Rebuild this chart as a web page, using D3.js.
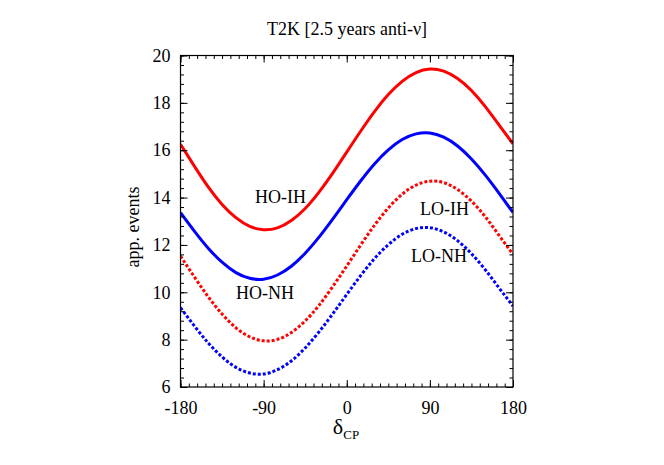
<!DOCTYPE html>
<html>
<head>
<meta charset="utf-8">
<script src="https://cdn.jsdelivr.net/npm/d3@7"></script>
<style>
  body { margin: 0; background: #fff; }
  svg { display: block; }
  text { font-family: "Liberation Serif", "Times New Roman", serif; fill: #000; }
</style>
</head>
<body>
<svg id="chart" width="664" height="465"></svg>
<script>
// ---- data ----
const deltaCP = [-180,-165,-150,-135,-120,-105,-90,-75,-60,-45,-30,-15,0,15,30,45,60,75,90,105,120,135,150,165,180];
const hoIH = [16.25,15.33,14.45,13.71,13.15,12.78,12.64,12.72,13.03,13.54,14.23,15.04,15.92,16.80,17.63,18.35,18.91,19.28,19.43,19.34,19.03,18.52,17.84,17.06,16.27];
const hoNH = [13.36,12.58,11.86,11.27,10.83,10.59,10.55,10.73,11.10,11.65,12.33,13.10,13.91,14.70,15.42,16.01,16.45,16.69,16.73,16.55,16.18,15.63,14.95,14.18,13.37];
const loIH = [11.53,10.65,9.81,9.08,8.50,8.12,7.95,8.01,8.30,8.79,9.45,10.25,11.11,11.99,12.83,13.56,14.14,14.53,14.69,14.63,14.34,13.85,13.19,12.40,11.60];
const loNH = [9.35,8.58,7.86,7.27,6.83,6.59,6.55,6.73,7.10,7.65,8.33,9.10,9.91,10.70,11.42,12.01,12.45,12.69,12.73,12.55,12.18,11.63,10.95,10.18,9.42];
const xTicks = [-180,-90,0,90,180];
const yTicks = [6,8,10,12,14,16,18,20];
const seriesNames = ["HO-IH","HO-NH","LO-IH","LO-NH"];
const titleText = "T2K [2.5 years anti-\u03bd]";
const yLabelText = "app. events";

// ---- layout ----
const svg = d3.select("#chart");
const L = 180.5, R = 513, T = 55.5, B = 387;
const x = d3.scaleLinear().domain([-180,180]).range([L,R]);
const y = d3.scaleLinear().domain([6,20]).range([B,T]);

const series = [
  {name: seriesNames[0], vals: hoIH, color: "#ff0000", dash: null, lx: 255, ly: 203},
  {name: seriesNames[1], vals: hoNH, color: "#0000ff", dash: null, lx: 236, ly: 299},
  {name: seriesNames[2], vals: loIH, color: "#ff0000", dash: "3,2", lx: 420, ly: 215},
  {name: seriesNames[3], vals: loNH, color: "#0000ff", dash: "3,2", lx: 411, ly: 262}
];

svg.append("clipPath").attr("id","clip")
  .append("rect").attr("x",L).attr("y",T).attr("width",R-L).attr("height",B-T);

const line = d3.line().x((d,i)=>x(deltaCP[i])).y(d=>y(d)).curve(d3.curveNatural);

const g = svg.append("g").attr("clip-path","url(#clip)");
series.forEach(s => {
  g.append("path").datum(s.vals)
    .attr("d", line)
    .attr("fill","none")
    .attr("stroke", s.color)
    .attr("stroke-width", 3)
    .attr("stroke-dasharray", s.dash);
});

// minor ticks
const xMinor = d3.range(-180, 181, 9);
const yMinor = d3.range(6, 20.01, 0.4);
const fmt = d => String(d);

function addAxis(axisGen, tx, ty) {
  const a = svg.append("g").attr("transform",`translate(${tx},${ty})`).call(axisGen);
  a.select(".domain").remove();
  a.selectAll("line").attr("stroke","#000").attr("stroke-width",1);
  a.selectAll("text").style("font-size","18px").style("font-family","'Liberation Serif', serif");
  return a;
}
// bottom
addAxis(d3.axisBottom(x).tickValues(xTicks).tickSize(-7).tickPadding(14).tickFormat(fmt), 0, B);
addAxis(d3.axisBottom(x).tickValues(xMinor).tickSize(-3.5).tickFormat(""), 0, B);
// top
addAxis(d3.axisTop(x).tickValues(xTicks).tickSize(-7).tickFormat(""), 0, T);
addAxis(d3.axisTop(x).tickValues(xMinor).tickSize(-3.5).tickFormat(""), 0, T);
// left
addAxis(d3.axisLeft(y).tickValues(yTicks).tickSize(-7).tickPadding(10).tickFormat(fmt), L, 0);
addAxis(d3.axisLeft(y).tickValues(yMinor).tickSize(-3.5).tickFormat(""), L, 0);
// right
addAxis(d3.axisRight(y).tickValues(yTicks).tickSize(-7).tickFormat(""), R, 0);
addAxis(d3.axisRight(y).tickValues(yMinor).tickSize(-3.5).tickFormat(""), R, 0);

// frame
svg.append("rect").attr("x",L).attr("y",T).attr("width",R-L).attr("height",B-T)
  .attr("fill","none").attr("stroke","#000").attr("stroke-width",1.2);

// labels on curves
series.forEach(s => {
  svg.append("text").attr("x", s.lx).attr("y", s.ly)
    .style("font-size","18px").text(s.name);
});

// title
svg.append("text").attr("x", 347).attr("y", 35).attr("text-anchor","middle")
  .style("font-size","18px").text(titleText);

// y label
svg.append("text").attr("transform","translate(139,227) rotate(-90)")
  .attr("text-anchor","middle").style("font-size","18px").text(yLabelText);

// x label
const xl = svg.append("text").attr("x", 346).attr("y", 434).attr("text-anchor","middle");
xl.append("tspan").style("font-size","22px").text("\u03b4");
xl.append("tspan").style("font-size","13px").attr("dy", 5).text("CP");
</script>
</body>
</html>
